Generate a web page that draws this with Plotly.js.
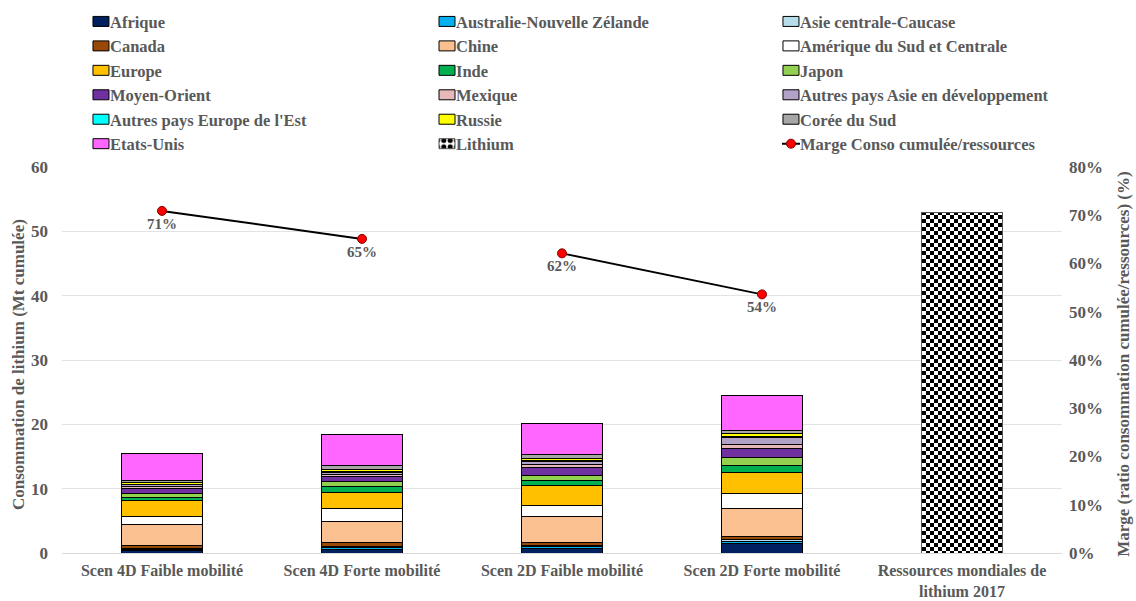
<!DOCTYPE html>
<html>
<head>
<meta charset="utf-8">
<script src="https://cdn.plot.ly/plotly-3.0.1.min.js"></script>
<style>html,body{margin:0;padding:0;background:#fff;}#chart{width:1136px;height:601px;}</style>
</head>
<body>
<div id="chart"></div>
<script>
// ---- DATA ----
const scenarios = ["Scen 4D Faible mobilité", "Scen 4D Forte mobilité", "Scen 2D Faible mobilité", "Scen 2D Forte mobilité"];
const resourceCategory = ["Ressources mondiales de<br>lithium 2017"];

const regionNames = [
  "Afrique", "Australie-Nouvelle Zélande", "Asie centrale-Caucase", "Canada", "Chine",
  "Amérique du Sud et Centrale", "Europe", "Inde", "Japon", "Moyen-Orient", "Mexique",
  "Autres pays Asie en développement", "Autres pays Europe de l'Est", "Russie", "Corée du Sud", "Etats-Unis"
];
const afrique      = [0.35, 0.55, 0.75, 1.40];
const australie    = [0.25, 0.35, 0.25, 0.40];
const asieCentrale = [0.07, 0.08, 0.09, 0.33];
const canada       = [0.42, 0.62, 0.51, 0.51];
const chine        = [3.32, 3.33, 4.15, 4.31];
const ameriqueSud  = [1.34, 2.02, 1.71, 2.33];
const europe       = [2.34, 2.49, 2.96, 3.21];
const inde         = [0.57, 0.87, 0.88, 1.14];
const japon        = [0.62, 0.84, 0.78, 1.14];
const moyenOrient  = [0.78, 0.72, 1.25, 1.51];
const mexique      = [0.20, 0.30, 0.36, 0.52];
const autresAsie   = [0.40, 0.36, 0.50, 1.19];
const autresEurEst = [0.05, 0.10, 0.15, 0.10];
const russie       = [0.25, 0.40, 0.30, 0.45];
const coreeSud     = [0.28, 0.50, 0.60, 0.48];
const etatsUnis    = [4.16, 4.87, 4.82, 5.44];
const regionValues = [afrique, australie, asieCentrale, canada, chine, ameriqueSud, europe, inde,
  japon, moyenOrient, mexique, autresAsie, autresEurEst, russie, coreeSud, etatsUnis];

const lithiumResources = [53];
const margeRatio = [0.709, 0.651, 0.621, 0.536];

const leftTitle = "Consommation de lithium (Mt cumulée)";
const rightTitle = "Marge (ratio consommation cumulée/ressources) (%)";

// ---- STYLE ----
const regionColors = ["#002060", "#00B0F0", "#B7DEE8", "#984807", "#FAC090", "#FFFFFF", "#FFC000", "#00B050",
  "#92D050", "#7030A0", "#E6B9B8", "#B3A2C7", "#00FFFF", "#FFFF00", "#A6A6A6", "#FF66FF"];
const txtColor = "#595959";
const fontFam = "Liberation Serif, Times New Roman, serif";
const legendIds = ["legend", "legend2", "legend3"];

const traces = [];
regionNames.forEach((name, i) => {
  traces.push({
    type: "bar", name: name, x: scenarios, y: regionValues[i],
    marker: {color: regionColors[i], line: {color: "#000", width: 1}},
    legend: legendIds[i % 3], hoverinfo: "name+y"
  });
});
traces.push({
  type: "bar", name: "Lithium", x: resourceCategory, y: lithiumResources,
  legend: legendIds[regionNames.length % 3],
  marker: {color: "#ffffff", line: {color: "#555", width: 1},
           pattern: {shape: ".", fgcolor: "#000", bgcolor: "#fff", size: 8, solidity: 0.5}}
});
const lineStyle = {color: "#000", width: 2};
const markerStyle = {color: "#FF0000", size: 9, line: {color: "#7f0000", width: 1}};
const labelFont = {family: fontFam, size: 15, color: txtColor, weight: "bold"};
traces.push({
  type: "scatter", mode: "lines+markers+text", name: "Marge Conso cumulée/ressources",
  legend: legendIds[(regionNames.length + 1) % 3],
  x: scenarios.slice(0, 2), y: margeRatio.slice(0, 2), yaxis: "y2",
  line: lineStyle, marker: markerStyle,
  texttemplate: "%{y:.0%}", textposition: "bottom center", textfont: labelFont
});
traces.push({
  type: "scatter", mode: "lines+markers+text", name: "Marge Conso cumulée/ressources", showlegend: false,
  legend: legendIds[(regionNames.length + 1) % 3],
  x: scenarios.slice(2, 4), y: margeRatio.slice(2, 4), yaxis: "y2",
  line: lineStyle, marker: markerStyle,
  texttemplate: "%{y:.0%}", textposition: "bottom center", textfont: labelFont
});

const tickFont = {family: fontFam, size: 17, color: txtColor, weight: "bold"};
const xTickFont = {family: fontFam, size: 16, color: txtColor, weight: "bold"};
const titleFont = {family: fontFam, size: 17, color: txtColor, weight: "bold"};
const legendBase = {
  orientation: "v", traceorder: "normal",
  xref: "container", xanchor: "left",
  yref: "container", y: 0.993, yanchor: "top",
  font: {family: fontFam, size: 16.5, color: txtColor, weight: "bold"},
  bgcolor: "rgba(0,0,0,0)", tracegroupgap: 0
};
const legendXs = [0.0616, 0.3662, 0.669];
const layout = {
  width: 1136, height: 601,
  margin: {l: 62, r: 74, t: 167, b: 48, autoexpand: false},
  paper_bgcolor: "#fff", plot_bgcolor: "#fff",
  barmode: "stack", bargap: 0.595,
  font: {family: fontFam, color: txtColor},
  showlegend: true,
  legend: Object.assign({}, legendBase, {x: legendXs[0]}),
  legend2: Object.assign({}, legendBase, {x: legendXs[1]}),
  legend3: Object.assign({}, legendBase, {x: legendXs[2]}),
  xaxis: {
    type: "category", categoryorder: "array", categoryarray: scenarios.concat(resourceCategory),
    tickfont: xTickFont, showgrid: false, zeroline: false,
    showline: true, linecolor: "#d9d9d9", linewidth: 1, ticks: "", ticklabelstandoff: 3
  },
  yaxis: {
    range: [0, 60], dtick: 10, tickfont: tickFont,
    showgrid: true, gridcolor: "#e3e3e3", gridwidth: 1, zeroline: false, showline: false,
    ticks: "", ticklabelstandoff: 13
  },
  yaxis2: {
    overlaying: "y", side: "right", range: [0, 0.8], dtick: 0.1, tickformat: ".0%",
    tickfont: tickFont, showgrid: false, zeroline: false, showline: false, ticks: "",
    ticklabelstandoff: 6
  },
  annotations: [
    {text: leftTitle, xref: "paper", yref: "paper", x: -0.044, y: 0.487, xanchor: "center", yanchor: "middle",
     textangle: -90, showarrow: false, font: titleFont},
    {text: rightTitle, xref: "paper", yref: "paper", x: 1.062, y: 0.49, xanchor: "center", yanchor: "middle",
     textangle: -90, showarrow: false, font: titleFont}
  ]
};

const gd = document.getElementById("chart");
function customize() {
  const svgNS = "http://www.w3.org/2000/svg";
  try {
    if (!document.getElementById("checkerLi")) {
      const defs = gd.querySelector("svg.main-svg defs");
      const pat = document.createElementNS(svgNS, "pattern");
      pat.setAttribute("id", "checkerLi");
      pat.setAttribute("patternUnits", "userSpaceOnUse");
      pat.setAttribute("width", "8"); pat.setAttribute("height", "8");
      const bg = document.createElementNS(svgNS, "rect");
      bg.setAttribute("width", "8"); bg.setAttribute("height", "8"); bg.setAttribute("fill", "#fff");
      pat.appendChild(bg);
      [[0, 0], [4, 4]].forEach(p => {
        const r = document.createElementNS(svgNS, "rect");
        r.setAttribute("x", p[0]); r.setAttribute("y", p[1]);
        r.setAttribute("width", "4"); r.setAttribute("height", "4"); r.setAttribute("fill", "#000");
        pat.appendChild(r);
      });
      defs.appendChild(pat);
    }
    const barTraces = gd.querySelectorAll(".barlayer .trace");
    const liTrace = barTraces[regionNames.length];
    if (liTrace) liTrace.querySelectorAll(".point path").forEach(p => { p.style.fill = "url(#checkerLi)"; });
  } catch (e) {}

  gd.querySelectorAll("g.traces").forEach(t => {
    try {
      const tx = t.querySelector(".legendtext");
      const name = tx ? tx.textContent : "";
      const lp = t.querySelector(".legendpoints");
      const linePaths = t.querySelectorAll(".legendlines path");
      const isLine = linePaths.length > 0;
      linePaths.forEach(p => p.setAttribute("d", "M22,0h18"));
      if (lp && !isLine) {
        lp.querySelectorAll("path").forEach(p => {
          p.setAttribute("d", "M8,5H-8V-5H8Z");
          if (name === "Lithium") p.style.fill = "url(#checkerLi)";
        });
      }
      if (lp) lp.setAttribute("transform", "translate(11,0)");
    } catch (e) {}
  });
}
Plotly.newPlot(gd, traces, layout, {displayModeBar: false, staticPlot: true}).then(() => {
  customize();
  gd.on("plotly_afterplot", customize);
  let n = 0;
  const iv = setInterval(() => { customize(); if (++n > 30) clearInterval(iv); }, 100);
});
</script>
</body>
</html>
